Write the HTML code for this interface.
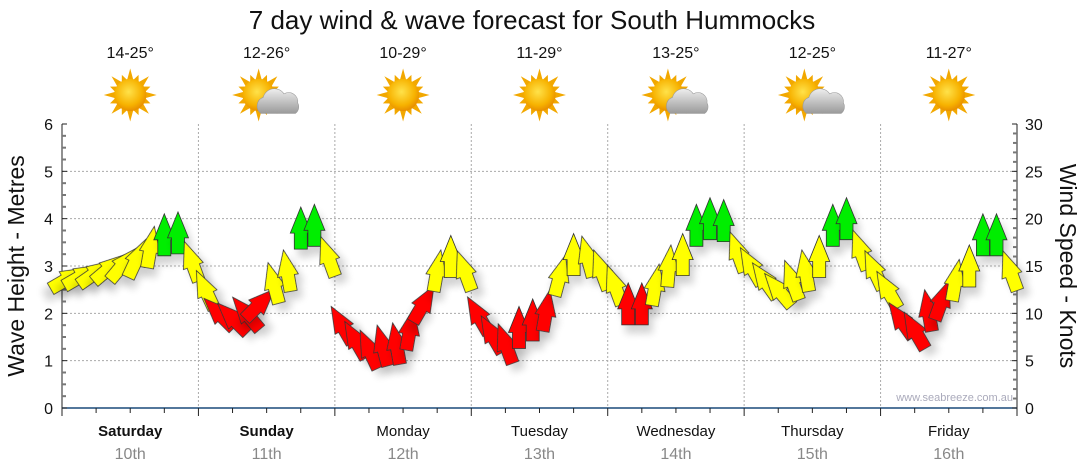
<!DOCTYPE html>
<html><head><meta charset="utf-8">
<style>
html,body{margin:0;padding:0;background:#fff;}
svg{display:block;font-family:"Liberation Sans",Verdana,sans-serif;}
</style></head>
<body>
<svg id="chart" width="1080" height="475" viewBox="0 0 1080 475">
<defs>
<radialGradient id="sunG" cx="45%" cy="40%" r="60%"><stop offset="0" stop-color="#ffe24a"/><stop offset="0.7" stop-color="#f7b200"/><stop offset="1" stop-color="#e88e00"/></radialGradient>
<linearGradient id="cloudG" x1="0" y1="0" x2="0" y2="1"><stop offset="0" stop-color="#eeeeee"/><stop offset="1" stop-color="#9a9a9a"/></linearGradient>
<filter id="sh" x="-50%" y="-50%" width="200%" height="200%"><feGaussianBlur in="SourceAlpha" stdDeviation="4"/><feOffset dx="4" dy="8"/><feComponentTransfer><feFuncA type="linear" slope="0.18"/></feComponentTransfer><feMerge><feMergeNode/><feMergeNode in="SourceGraphic"/></feMerge></filter>
</defs>
<text x="532" y="29" font-size="26" text-anchor="middle" fill="#111">7 day wind &amp; wave forecast for South Hummocks</text>
<g id="grid"></g>
<g id="axes"></g>
<g id="icons"></g>
<g id="arrows"></g>
<text x="24" y="266" font-size="23" text-anchor="middle" fill="#111" transform="rotate(-90 24 266)">Wave Height - Metres</text>
<text x="1060" y="266" font-size="23" text-anchor="middle" fill="#111" transform="rotate(90 1060 266)">Wind Speed - Knots</text>
<text x="1013" y="401" font-size="11" text-anchor="end" fill="#aab">www.seabreeze.com.au</text>
</svg>
<script>
const days = ["Saturday","Sunday","Monday","Tuesday","Wednesday","Thursday","Friday"];
const dates = ["10th","11th","12th","13th","14th","15th","16th"];
const temps = ["14-25°","12-26°","10-29°","11-29°","13-25°","12-25°","11-27°"];
const cloudy = [false,true,false,false,true,true,false];
const waveTicks = [0,1,2,3,4,5,6];
const windTicks = [0,5,10,15,20,25,30];
const windKnots = [
 13.7,14,14.3,14.8,15.2,15.8,17,18.3,18.5,15.5,
 12.5,10,9.5,10,11,13.2,14.5,19,19.3,16,
 8.8,7.2,6.2,6.6,6.8,8.3,11,14.5,16,14.5,
 9.8,7.8,6.8,8.5,9.3,10.3,14,16.2,16,14.6,
 13,11,11,13,15,16.2,19.3,20,19.8,16.5,
 15,13.5,12.5,13.5,14.5,16,19.3,20,16.7,14.6,
 12.5,9.3,8.2,10.3,11.4,13.5,15,18.3,18.3,14.5
];
const windDir = [
 60,60,55,50,40,25,10,0,0,-20,
 -25,-45,-45,-40,45,-15,-10,0,0,-20,
 -30,-30,-25,-15,-10,10,30,10,0,-20,
 -30,-30,-20,0,0,10,15,0,-15,-20,
 -20,0,0,10,5,0,0,0,0,-20,
 -30,-35,-40,-20,-10,0,0,0,-20,-25,
 -30,-35,-30,-10,20,10,0,0,0,-20
];
const NS="http://www.w3.org/2000/svg";
const X0=62,X1=1017,Y0=408,Y1=124,DW=(X1-X0)/7;
const yM=m=>Y0-(m/6)*(Y0-Y1);
const yK=k=>Y0-(k/30)*(Y0-Y1);
const xT=t=>X0+t*DW;
function mk(tag,attrs,parent){const e=document.createElementNS(NS,tag);for(const k in attrs)e.setAttribute(k,attrs[k]);parent.appendChild(e);return e;}
const grid=document.getElementById('grid'),axes=document.getElementById('axes'),icons=document.getElementById('icons'),arrows=document.getElementById('arrows');
for(let m=1;m<=5;m++){const l=mk('line',{x1:X0,x2:X1,y1:yM(m),y2:yM(m),stroke:'#aaa','stroke-dasharray':'2,2','stroke-width':1},grid);

}
for(let d=1;d<7;d++){const l=mk('line',{x1:xT(d),x2:xT(d),y1:Y1,y2:Y0,stroke:'#aaa','stroke-dasharray':'2,2','stroke-width':1},grid);

}
let a=mk('line',{x1:X0,x2:X0,y1:Y1,y2:Y0,stroke:'#222'},axes);


a=mk('line',{x1:X1,x2:X1,y1:Y1,y2:Y0,stroke:'#222'},axes);


a=mk('line',{x1:X0,x2:X1,y1:Y0,y2:Y0,stroke:'#1a4a7a','stroke-width':1.5},axes);


for(let i=0;i<=24;i++){const m=i*0.25;const y=yM(m);mk('line',{x1:X0,x2:X0+(i%4==0?5:4),y1:y,y2:y,stroke:i%4==0?'#222':'#777','stroke-width':i%4==0?1:2},axes);}
waveTicks.forEach(m=>{const t=mk('text',{x:X0-9,y:yM(m)+6,'font-size':16,'text-anchor':'end',fill:'#111'},axes);t.textContent=m;

});
for(let k=0;k<=30;k++){const y=yK(k);mk('line',{x1:X1,x2:X1-(k%5==0?5:4),y1:y,y2:y,stroke:k%5==0?'#222':'#777','stroke-width':k%5==0?1:2},axes);}
windTicks.forEach(k=>{const t=mk('text',{x:X1+8,y:yK(k)+6,'font-size':16,fill:'#111'},axes);t.textContent=k;

});
for(let i=0;i<=28;i++){const x=xT(i/4);mk('line',{x1:x,x2:x,y1:Y0,y2:Y0+(i%4==0?8:5),stroke:'#222'},axes);}
days.forEach((d,i)=>{const cx=xT(i+0.5);
let t=mk('text',{x:cx,y:436,'font-size':15,'text-anchor':'middle',fill:'#111','font-weight':i<2?'bold':'normal'},axes);t.textContent=d;


t=mk('text',{x:cx,y:459,'font-size':16,'text-anchor':'middle',fill:'#888'},axes);t.textContent=dates[i];


t=mk('text',{x:cx,y:58,'font-size':16,'text-anchor':'middle',fill:'#111'},icons);t.textContent=temps[i];


const g=mk('g',{transform:`translate(${cx-(cloudy[i]?8:0)},95) scale(1.15)`},icons);


for(let r=0;r<16;r++){const ang=r*22.5;const len=r%2?19:23;mk('polygon',{points:`-3,-12 3,-12 0,-${len}`,fill:'#f2a800',transform:`rotate(${ang})`},g);}
mk('circle',{r:14,fill:'url(#sunG)'},g);
if(cloudy[i]){mk('path',{d:'M2,16 a8,8 0 0 1 2,-14 a10,10 0 0 1 18,-3 a8,8 0 0 1 12,8 a7,7 0 0 1 -2,9 z',fill:'url(#cloudG)',stroke:'#999','stroke-width':0.5},g);}
});
const N=10;
windKnots.forEach((k,i)=>{
 const d=Math.floor(i/N),j=i%N;
 const x=xT(d+(j+0.5)/N),y=yK(k);
 const col=k>=18?'#00ee00':(k>=12?'#ffff00':'#ff0000');
 const p=mk('polygon',{points:'-6.5,21 -6.5,5 -10.5,5 0,-21 10.5,5 6.5,5 6.5,21',fill:col,stroke:'#333','stroke-width':0.8,filter:'url(#sh)',transform:`translate(${x.toFixed(1)},${y.toFixed(1)}) rotate(${windDir[i]})`},arrows);
 
 
});
</script>
</body></html>
